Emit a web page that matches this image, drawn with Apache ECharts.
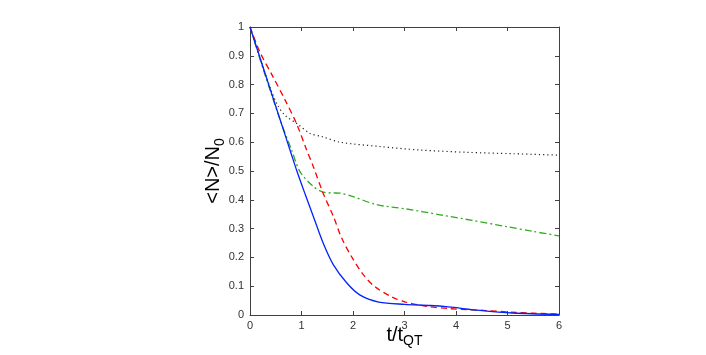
<!DOCTYPE html>
<html>
<head>
<meta charset="utf-8">
<script src="https://cdn.jsdelivr.net/npm/echarts@6/dist/echarts.min.js"></script>
<style>
  html, body { margin: 0; padding: 0; background: #fff; }
  #main { width: 706px; height: 355px; }
</style>
</head>
<body>
<div id="main"></div>
<script>
// curves: [t/tQT, <N>/N0]
var blueSolid = [[0,1],[0.2,0.89],[0.4,0.78],[0.6,0.67],[0.8,0.56],[0.91,0.5],[1.07,0.42],[1.23,0.342],[1.42,0.25],[1.62,0.174],[1.88,0.111],[2.13,0.07],[2.5,0.045],[3.0,0.037],[3.5,0.033],[3.85,0.028],[4.46,0.016],[5.1,0.007],[6,0.002]];
var redDashed = [[0,1],[0.19,0.914],[0.45,0.826],[0.68,0.747],[0.9,0.666],[1.1,0.573],[1.23,0.515],[1.42,0.423],[1.62,0.342],[1.78,0.267],[1.97,0.203],[2.2,0.14],[2.42,0.099],[2.75,0.063],[3.02,0.045],[3.43,0.03],[3.88,0.022],[4.53,0.016],[5.17,0.009],[5.85,0.004],[6,0.003]];
var greenDashDot = [[0,1],[0.2,0.885],[0.4,0.775],[0.6,0.67],[0.81,0.572],[0.97,0.498],[1.23,0.446],[1.42,0.427],[1.6,0.424],[1.75,0.423],[2.0,0.411],[2.46,0.383],[3.04,0.368],[3.69,0.348],[4.33,0.328],[4.98,0.307],[5.5,0.29],[6,0.275]];
var blackDotted = [[0,1],[0.2,0.89],[0.4,0.785],[0.55,0.724],[0.7,0.69],[0.9,0.666],[1.16,0.631],[1.39,0.62],[1.75,0.6],[2.52,0.585],[3.3,0.573],[4.2,0.565],[5.11,0.56],[6,0.555]];

var xTicks = [0, 6, 1];    // min, max, step
var yTicks = [0, 1, 0.1];

var myChart = echarts.init(document.getElementById('main'));

var axisLine = { onZero: false, lineStyle: { color: '#404040', width: 1 } };
var tick = { inside: true, length: 4, lineStyle: { color: '#404040' } };
var lbl = { color: '#333', fontSize: 11, fontFamily: 'Liberation Sans, Arial, sans-serif' };
var font = 'Liberation Sans, Arial, sans-serif';

var option = {
    animation: false,
    grid: { left: 250, right: 147, top: 27, bottom: 40, outerBoundsMode: 'none', containLabel: false },
    xAxis: [
        {
            type: 'value', min: xTicks[0], max: xTicks[1], interval: xTicks[2],
            position: 'bottom',
            axisLine: axisLine, axisTick: tick, splitLine: { show: false },
            axisLabel: Object.assign({ margin: 5 }, lbl),
            name: '{a|t/t}{b|QT}',
            nameLocation: 'middle', nameGap: 9, nameMoveOverlap: false,
            nameTextStyle: {
                rich: {
                    a: { fontSize: 20, fontFamily: font, color: '#000', lineHeight: 22 },
                    b: { fontSize: 14, fontFamily: font, color: '#000', lineHeight: 16, padding: [12, 0, 0, 0] }
                }
            }
        },
        {
            type: 'value', min: xTicks[0], max: xTicks[1], interval: xTicks[2],
            position: 'top',
            axisLine: axisLine, axisTick: tick, splitLine: { show: false },
            axisLabel: { show: false }
        }
    ],
    yAxis: [
        {
            type: 'value', min: yTicks[0], max: yTicks[1], interval: yTicks[2],
            position: 'left',
            axisLine: axisLine, axisTick: tick, splitLine: { show: false },
            axisLabel: Object.assign({ margin: 6 }, lbl),
            name: '{a|<N>/N}{b|0}',
            nameLocation: 'middle', nameGap: 25, nameRotate: 90, nameMoveOverlap: false,
            nameTextStyle: {
                rich: {
                    a: { fontSize: 20, fontFamily: font, color: '#000', lineHeight: 24 },
                    b: { fontSize: 14, fontFamily: font, color: '#000', lineHeight: 24, padding: [14, 0, 0, 0] }
                }
            }
        },
        {
            type: 'value', min: yTicks[0], max: yTicks[1], interval: yTicks[2],
            position: 'right',
            axisLine: axisLine, axisTick: tick, splitLine: { show: false },
            axisLabel: { show: false }
        }
    ],
    series: [
        {
            name: 'dotted', type: 'line', data: blackDotted, smooth: 0.3, showSymbol: false,
            lineStyle: { color: '#222', width: 1.2, type: [1.2, 3] }
        },
        {
            name: 'dashdot', type: 'line', data: greenDashDot, smooth: 0.3, showSymbol: false,
            lineStyle: { color: '#33aa22', width: 1.3, type: [7, 3, 2, 3] }
        },
        {
            name: 'dashed', type: 'line', data: redDashed, smooth: 0.3, showSymbol: false,
            lineStyle: { color: '#ff0000', width: 1.3, type: [6, 4] }
        },
        {
            name: 'solid', type: 'line', data: blueSolid, smooth: 0.3, showSymbol: false,
            lineStyle: { color: '#0022ff', width: 1.3 }
        }
    ]
};

if (option && typeof option === 'object') {
    myChart.setOption(option, true);
}
</script>
</body>
</html>
